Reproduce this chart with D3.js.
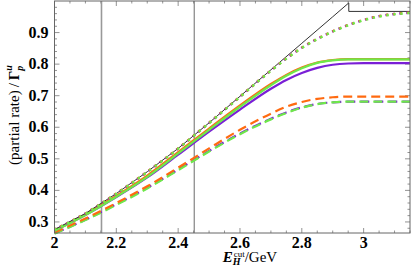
<!DOCTYPE html>
<html>
<head>
<meta charset="utf-8">
<script src="https://d3js.org/d3.v7.min.js"></script>
<style>
  body { margin: 0; background: #fff; }
  svg text { font-family: "Liberation Serif", "DejaVu Serif", serif; }
</style>
</head>
<body>
<div id="chart"></div>
<script>
"use strict"
// grid of E_H^cut values (GeV)
var energia = [2.0, 2.1, 2.2, 2.3, 2.4, 2.5, 2.6, 2.7, 2.75, 2.8, 2.85, 2.9, 2.95, 3.0, 3.05, 3.1, 3.15];

// black reference line (rises to the kink, then drops)
var pretoX = [2.0, 2.1, 2.2, 2.3, 2.4, 2.5, 2.6, 2.7, 2.8, 2.9, 2.952, 2.952, 3.15];
var pretoY = [0.276, 0.327, 0.390, 0.459, 0.533, 0.614, 0.698, 0.782, 0.866, 0.950, 0.994, 0.967, 0.967];

// dotted
var pontRoxo    = [0.276, 0.327, 0.390, 0.459, 0.533, 0.614, 0.697, 0.780, 0.818, 0.852, 0.880, 0.904, 0.924, 0.940, 0.952, 0.959, 0.963];
var pontLaranja = [0.276, 0.327, 0.390, 0.459, 0.533, 0.614, 0.697, 0.780, 0.818, 0.852, 0.880, 0.904, 0.924, 0.940, 0.952, 0.959, 0.963];
var pontVerde   = [0.275, 0.326, 0.389, 0.458, 0.532, 0.613, 0.696, 0.779, 0.817, 0.851, 0.879, 0.903, 0.923, 0.939, 0.951, 0.958, 0.962];

// solid
var cheioRoxo    = [0.273, 0.322, 0.379, 0.441, 0.513, 0.586, 0.656, 0.722, 0.750, 0.772, 0.788, 0.798, 0.802, 0.803, 0.803, 0.803, 0.803];
var cheioLaranja = [0.273, 0.324, 0.383, 0.447, 0.521, 0.596, 0.669, 0.737, 0.766, 0.789, 0.805, 0.813, 0.816, 0.816, 0.816, 0.816, 0.816];
var cheioVerde   = [0.272, 0.322, 0.380, 0.443, 0.517, 0.592, 0.665, 0.733, 0.763, 0.787, 0.804, 0.812, 0.815, 0.815, 0.815, 0.815, 0.815];

// dashed
var tracoRoxo    = [0.264, 0.307, 0.356, 0.408, 0.466, 0.525, 0.580, 0.627, 0.647, 0.663, 0.674, 0.679, 0.681, 0.681, 0.681, 0.681, 0.681];
var tracoLaranja = [0.267, 0.311, 0.360, 0.413, 0.472, 0.533, 0.592, 0.643, 0.665, 0.680, 0.690, 0.695, 0.697, 0.697, 0.697, 0.697, 0.697];
var tracoVerde   = [0.263, 0.306, 0.354, 0.406, 0.464, 0.523, 0.578, 0.625, 0.645, 0.662, 0.673, 0.679, 0.681, 0.681, 0.681, 0.681, 0.681];

// vertical marker lines
var verticais = [2.152, 2.452];

var ticksX = [2, 2.2, 2.4, 2.6, 2.8, 3];
var ticksY = [0.3, 0.4, 0.5, 0.6, 0.7, 0.8, 0.9];

var roxo = "#7a1fd6", laranja = "#ff6a10", verde = "#6ee84a";

var largura = 411, altura = 269;
var margem = {top: 1, right: 1, bottom: 36, left: 54.5};

var svg = d3.select("#chart").append("svg")
  .attr("width", largura).attr("height", altura);

var x = d3.scaleLinear().domain([2, 3.15]).range([margem.left, largura - margem.right]);
var y = d3.scaleLinear().domain([0.265, 1.0]).range([altura - margem.bottom, margem.top]);

var x0 = x.range()[0], x1 = x.range()[1], y0 = y.range()[0], y1 = y.range()[1];

// minor + major ticks on all four sides (pointing inwards)
var minorX = d3.range(2, 3.151, 0.05);
var minorY = d3.range(0.28, 1.0, 0.02);
var marcas = svg.append("g").attr("stroke", "#777").attr("stroke-width", 0.8);
minorX.forEach(function (v) {
  var major = ticksX.some(t => Math.abs(t - v) < 1e-6);
  var L = major ? 5 : 2.5;
  marcas.append("line").attr("x1", x(v)).attr("x2", x(v)).attr("y1", y0).attr("y2", y0 - L);
  marcas.append("line").attr("x1", x(v)).attr("x2", x(v)).attr("y1", y1).attr("y2", y1 + L);
});
minorY.forEach(function (v) {
  var major = ticksY.some(t => Math.abs(t - v) < 1e-6);
  var L = major ? 5 : 2.5;
  marcas.append("line").attr("y1", y(v)).attr("y2", y(v)).attr("x1", x0).attr("x2", x0 + L);
  marcas.append("line").attr("y1", y(v)).attr("y2", y(v)).attr("x1", x1).attr("x2", x1 - L);
});

// tick labels
svg.append("g").selectAll("text").data(ticksX).enter().append("text")
  .attr("x", d => x(d)).attr("y", y0 + 15)
  .attr("text-anchor", "middle")
  .style("font-size", "16px").style("font-weight", "bold")
  .text(d => d3.format("")(d));
svg.append("g").selectAll("text").data(ticksY).enter().append("text")
  .attr("x", x0 - 6).attr("y", d => y(d) + 5)
  .attr("text-anchor", "end")
  .style("font-size", "16px").style("font-weight", "bold")
  .text(d => d3.format(".1f")(d));

// vertical marker lines
svg.append("g").selectAll("line").data(verticais).enter().append("line")
  .attr("x1", d => x(d)).attr("x2", d => x(d)).attr("y1", y0).attr("y2", y1)
  .attr("stroke", (d, i) => i === 0 ? "#999" : "#777")
  .attr("stroke-width", (d, i) => i === 0 ? 1.6 : 1.1);

var linha = d3.line().x(d => x(d[0])).y(d => y(d[1])).curve(d3.curveMonotoneX);
function junta(xs, ys) { return xs.map((v, i) => [v, ys[i]]); }

var curvas = svg.append("g").attr("fill", "none");

// dashed
[[tracoRoxo, roxo], [tracoVerde, verde], [tracoLaranja, laranja]].forEach(function (s, i) {
  curvas.append("path").attr("d", linha(junta(energia, s[0])))
    .attr("stroke", s[1]).attr("stroke-width", 2.2)
    .attr("stroke-dasharray", "9,5").attr("stroke-dashoffset", i === 0 ? -1 : 0);
});
// solid
[[cheioRoxo, roxo], [cheioLaranja, laranja], [cheioVerde, verde]].forEach(function (s) {
  curvas.append("path").attr("d", linha(junta(energia, s[0])))
    .attr("stroke", s[1]).attr("stroke-width", 2.2);
});
// black reference
curvas.append("path")
  .attr("d", d3.line().x(d => x(d[0])).y(d => y(d[1]))(junta(pretoX, pretoY)))
  .attr("stroke", "#333").attr("stroke-width", 1);
// dotted
[[pontRoxo, roxo, 1], [pontLaranja, laranja, 0.5], [pontVerde, verde, 0]].forEach(function (s) {
  curvas.append("path").attr("d", linha(junta(energia, s[0])))
    .attr("stroke", s[1]).attr("stroke-width", 2.4)
    .attr("stroke-dasharray", "2.4,4.6").attr("stroke-dashoffset", s[2]);
});

// frame
svg.append("rect").attr("x", x0).attr("y", y1).attr("width", x1 - x0).attr("height", y0 - y1)
  .attr("fill", "none").attr("stroke", "#666").attr("stroke-width", 1);

// axis titles
var tx = svg.append("text").attr("x", 250).attr("y", 262)
  .attr("text-anchor", "middle").style("font-size", "15px");
tx.append("tspan").style("font-style", "italic").style("font-weight", "bold").text("E");
tx.append("tspan").attr("dy", 3).style("font-size", "10px").style("font-style", "italic").style("font-weight", "bold").text("H");
tx.append("tspan").attr("dx", -7).attr("dy", -8).style("font-size", "9px").text("cut");
tx.append("tspan").attr("dy", 5).text("/GeV");

var ty = svg.append("text")
  .attr("transform", "translate(19," + 115 + ") rotate(-90)")
  .attr("text-anchor", "middle").style("font-size", "15px");
ty.append("tspan").text("(partial rate)\u2009/\u2009");
ty.append("tspan").style("font-weight", "bold").text("\u0393");
ty.append("tspan").attr("dy", 4).style("font-size", "10px").style("font-weight", "bold").style("font-style", "italic").text("p");
ty.append("tspan").attr("dx", -5).attr("dy", -11).style("font-size", "10px").style("font-weight", "bold").style("font-style", "italic").text("u");
</script>
</body>
</html>
